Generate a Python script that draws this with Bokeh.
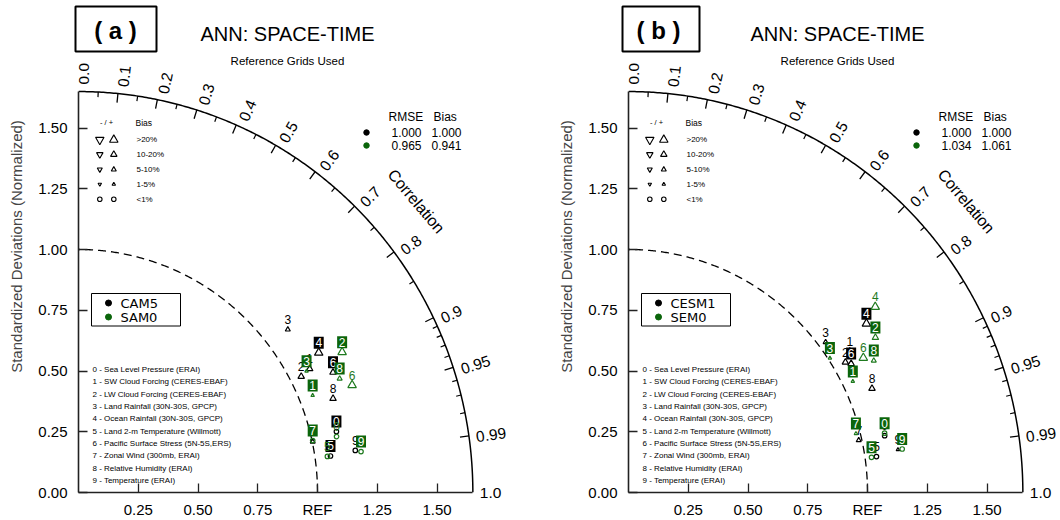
import numpy as np
from bokeh.plotting import figure
from bokeh.layouts import row
from bokeh.models import Range1d, FixedTicker, CustomJSTickFormatter
from bokeh.core.properties import value
from bokeh.embed import file_html
from bokeh.resources import INLINE

# ---------------------------------------------------------------- data
variable_names = [
    "Sea Level Pressure (ERAI)",
    "SW Cloud Forcing (CERES-EBAF)",
    "LW Cloud Forcing (CERES-EBAF)",
    "Land Rainfall (30N-30S, GPCP)",
    "Ocean Rainfall (30N-30S, GPCP)",
    "Land 2-m Temperature (Willmott)",
    "Pacific Surface Stress (5N-5S,ERS)",
    "Zonal Wind (300mb, ERAI)",
    "Relative Humidity (ERAI)",
    "Temperature (ERAI)",
]

corr_major = [0.0, 0.1, 0.2, 0.3, 0.4, 0.5, 0.6, 0.7, 0.8, 0.9, 0.95, 0.99, 1.0]
corr_major_labels = ["0.0", "0.1", "0.2", "0.3", "0.4", "0.5", "0.6",
                     "0.7", "0.8", "0.9", "0.95", "0.99", "1.0"]
corr_minor = [0.05, 0.15, 0.25, 0.35, 0.45, 0.55, 0.65, 0.75, 0.85,
              0.91, 0.92, 0.93, 0.94, 0.96, 0.97, 0.98]
std_ticks = [0.0, 0.25, 0.5, 0.75, 1.0, 1.25, 1.5]
bias_bins = [">20%", "10-20%", "5-10%", "1-5%", "<1%"]

# panel (a)
a_models = ["CAM5", "SAM0"]
a_std_cam5 = [1.108, 1.093, 1.047, 1.103, 1.158, 1.065, 1.174, 1.002, 1.133, 1.171]
a_cor_cam5 = [0.974, 0.885, 0.890, 0.794, 0.868, 0.990, 0.907, 0.978, 0.940, 0.989]
a_bias_cam5 = [0.5, 14, 15, 8, 23, 0.4, 13, 7, 16, 0.6]
a_std_sam0 = [1.104, 1.058, 1.245, 1.077, np.nan, 1.052, 1.227, 1.003, 1.189, 1.194]
a_cor_sam0 = [0.978, 0.926, 0.886, 0.886, np.nan, 0.990, 0.933, 0.977, 0.919, 0.990]
a_bias_sam0 = [0.5, 3, 22, 3, np.nan, 0.5, 24, 0.7, 8, 0.6]
a_rmse = [1.000, 0.965]
a_bias = [1.000, 0.941]

# panel (b)
b_models = ["CESM1", "SEM0"]
b_std_cesm1 = [1.097, 1.093, 1.054, 1.031, 1.214, 1.048, 1.072, 0.987, 1.105, 1.141]
b_cor_cesm1 = [0.977, 0.847, 0.861, 0.800, 0.820, 0.990, 0.869, 0.976, 0.922, 0.988]
b_bias_cesm1 = [0.5, 14, 15, 8, 24, 0.5, 13, 6, 16, 3]
b_std_sem0 = [1.099, 1.044, 1.214, 1.008, 1.284, 1.027, 1.128, 0.982, 1.161, 1.159]
b_cor_sem0 = [0.975, 0.899, 0.851, 0.836, 0.804, 0.990, 0.871, 0.969, 0.884, 0.988]
b_bias_sem0 = [0.6, 3, 15, 3, 26, 0.5, 24, 3, 8, 0.6]
b_rmse = [1.000, 1.034]
b_bias = [1.000, 1.061]

# which case labels are drawn as white digits on a filled tag
a_tagged = [[True, False, False, False, True, True, True, False, False, False],
            [False, True, True, True, False, False, False, True, True, True]]
b_tagged = [[False, False, False, False, True, False, True, False, False, False],
            [True, True, True, True, False, True, False, True, True, True]]

# ---------------------------------------------------------------- style
FONT = "Liberation Sans"
LEG_FONT = "DejaVu Sans"
CASE_LINE = ["#000000", "#1f7a1f"]
CASE_FILL = ["#000000", "#0b650b"]
SX, SY = 239.0, 243.0          # pixels per unit of normalised std
RMAX = 1.65
LEFT, BOTTOM, HEIGHT = 78, 28, 520
FRAME_H = HEIGHT - BOTTOM
TRI_SIZE = [8.5, 6.5, 5.0, 3.5]
CIRC_SIZE = 4.5


def at(dx, ytop):
    """layout helper: dx pixels right of the axis, ytop pixels from the page top"""
    return dx / SX, (FRAME_H - ytop) / SY


def bias_class(b):
    a = abs(b)
    if a > 20:
        return 0
    if a > 10:
        return 1
    if a > 5:
        return 2
    if a >= 1:
        return 3
    return 4


def txt(p, x, y, s, size, color="black", align="left", baseline="middle",
        font=FONT, style="normal", angle=0.0, xo=0.0, yo=0.0, level="glyph"):
    p.text(x=x, y=y, text=s, text_font=value(font), text_font_size=size,
           text_color=color, text_align=align, text_baseline=baseline,
           text_font_style=style, angle=angle, x_offset=xo, y_offset=yo,
           level=level)


def make_panel(tag, tag_box, models, stds, cors, biases, tagged, rmse, bias_tot, width):
    p = figure(width=width, height=HEIGHT,
               x_range=Range1d(0, (width - LEFT) / SX),
               y_range=Range1d(0, FRAME_H / SY),
               output_backend="svg", toolbar_location=None,
               min_border_left=LEFT, min_border_right=0,
               min_border_top=0, min_border_bottom=BOTTOM,
               outline_line_color=None, background_fill_color="white",
               border_fill_color="white")
    p.xgrid.visible = False
    p.ygrid.visible = False

    # straight axes
    for ax in (p.xaxis[0], p.yaxis[0]):
        ax.bounds = (0, RMAX)
        ax.axis_line_color = "#222222"
        ax.axis_line_width = 1.6
        ax.major_tick_line_color = "#222222"
        ax.major_tick_line_width = 1.3
        ax.major_tick_in = 9
        ax.major_tick_out = 0
        ax.minor_tick_line_color = None
        ax.major_label_text_font = FONT
        ax.major_label_text_font_size = "15px"
        ax.major_label_text_color = "black"
    p.xaxis.ticker = FixedTicker(ticks=std_ticks[1:])
    p.xaxis.formatter = CustomJSTickFormatter(
        code="return Math.abs(tick - 1) < 1e-9 ? 'REF' : tick.toFixed(2);")
    p.xaxis.major_label_standoff = 8
    p.yaxis.ticker = FixedTicker(ticks=std_ticks)
    p.yaxis.formatter = CustomJSTickFormatter(code="return tick.toFixed(2);")
    p.yaxis.major_label_standoff = 11
    p.yaxis.axis_label = "Standardized Deviations (Normalized)"
    p.yaxis.axis_label_text_font = FONT
    p.yaxis.axis_label_text_font_size = "15px"
    p.yaxis.axis_label_text_font_style = "normal"
    p.yaxis.axis_label_standoff = 10

    # outer correlation arc and the reference arc
    t = np.linspace(0, np.pi / 2, 300)
    p.line(RMAX * np.cos(t), RMAX * np.sin(t), line_color="black", line_width=1.5)
    p.line(np.cos(t), np.sin(t), line_color="black", line_width=1.3, line_dash="8 5")

    # correlation ticks (pointing inwards) and labels
    th_maj = np.arccos(np.array(corr_major))
    th_in = th_maj[1:-1]
    r_in = RMAX - 9 / SX
    p.segment(RMAX * np.cos(th_in), RMAX * np.sin(th_in),
              r_in * np.cos(th_in), r_in * np.sin(th_in),
              line_color="black", line_width=1.3)
    th_min = np.arccos(np.array(corr_minor))
    r_in2 = RMAX - 5 / SX
    p.segment(RMAX * np.cos(th_min), RMAX * np.sin(th_min),
              r_in2 * np.cos(th_min), r_in2 * np.sin(th_min),
              line_color="black", line_width=1.2)
    rad, perp = 7.0, 5.0 * np.minimum(1.0, th_maj / 0.3)
    # overlay level: the "1.0" label straddles the bottom edge of the frame
    txt(p, RMAX * np.cos(th_maj), RMAX * np.sin(th_maj),
        corr_major_labels, "15.5px", angle=th_maj,
        xo=rad * np.cos(th_maj) + perp * np.sin(th_maj),
        yo=-rad * np.sin(th_maj) + perp * np.cos(th_maj), level="overlay")
    tc = np.radians(40.3)
    txt(p, [1.853 * np.cos(tc)], [1.853 * np.sin(tc)], ["Correlation"], "16px",
        align="center", angle=tc - np.pi / 2)

    # panel tag, title, subtitle
    bl, br, bc = tag_box
    x0, y1 = at(bl, 6)
    x1, y0 = at(br, 51)
    p.quad(left=[x0], right=[x1], bottom=[y0], top=[y1], fill_color=None,
           line_color="black", line_width=2, level="overlay")
    tx, ty = at(bc, 30)
    txt(p, [tx], [ty], ["( %s )" % tag], "24px", align="center", style="bold",
        level="overlay")
    tx, ty = at(209, 33)
    txt(p, [tx], [ty], ["ANN: SPACE-TIME"], "20px", align="center")
    tx, ty = at(209, 60)
    txt(p, [tx], [ty], ["Reference Grids Used"], "11.5px", align="center")

    # bias-size key
    tx, ty = at(28, 122)
    txt(p, [tx], [ty], ["- / +"], "7.5px", align="center")
    tx, ty = at(57, 122)
    txt(p, [tx], [ty], ["Bias"], "8.5px")
    rows_y = [139.3, 154.0, 169.0, 183.7, 198.7]
    for k, lab in enumerate(bias_bins):
        xd, yk = at(21.3, rows_y[k])
        xu, _ = at(35.3, rows_y[k])
        xl, _ = at(58, rows_y[k])
        if k < 4:
            p.scatter([xd], [yk], marker="inverted_triangle", size=TRI_SIZE[k],
                      fill_color=None, line_color="black", line_width=1.1)
            p.scatter([xu], [yk], marker="triangle", size=TRI_SIZE[k],
                      fill_color=None, line_color="black", line_width=1.1)
        else:
            p.scatter([xd, xu], [yk, yk], marker="circle", size=CIRC_SIZE,
                      fill_color=None, line_color="black", line_width=1.1)
        txt(p, [xl], [yk], [lab], "8px")

    # RMSE / Bias summary
    hx1, hy = at(310, 116)
    hx2, _ = at(355, 116)
    txt(p, [hx1], [hy], ["RMSE"], "12px")
    txt(p, [hx2], [hy], ["Bias"], "12px")
    for n in range(2):
        dx, ry = at(288, 132 + 13 * n)
        c1, _ = at(313, 132 + 13 * n)
        c2, _ = at(353, 132 + 13 * n)
        p.scatter([dx], [ry], marker="circle", size=5.5, fill_color=CASE_FILL[n],
                  line_color=CASE_FILL[n])
        txt(p, [c1], [ry], ["%.3f" % rmse[n]], "12px")
        txt(p, [c2], [ry], ["%.3f" % bias_tot[n]], "12px")

    # case legend
    bx0, by1 = at(13, 293)
    bx1, by0 = at(102, 325.5)
    p.quad(left=[bx0], right=[bx1], bottom=[by0], top=[by1], fill_color="white",
           line_color="black", line_width=1)
    for n in range(2):
        dx, ry = at(30, 302.5 + 14 * n)
        lx, _ = at(42, 302.5 + 14 * n)
        p.scatter([dx], [ry], marker="circle", size=6, fill_color=CASE_FILL[n],
                  line_color=CASE_FILL[n])
        txt(p, [lx], [ry], [models[n]], "13px", font=LEG_FONT)

    # variable key
    for i, name in enumerate(variable_names):
        lx, ly = at(14, 369 + 12.35 * i)
        txt(p, [lx], [ly], ["%d - %s" % (i, name)], "8px")

    # case markers and their numbered labels
    for n in range(2):
        s = np.array(stds[n], dtype=float)
        r = np.array(cors[n], dtype=float)
        b = np.array(biases[n], dtype=float)
        x = s * r
        y = s * np.sqrt(1 - r ** 2)
        for i in range(len(s)):
            if np.isnan(s[i]):
                continue
            k = bias_class(b[i])
            if k == 4:
                mk, sz = "circle", CIRC_SIZE
            else:
                mk = "triangle" if b[i] > 0 else "inverted_triangle"
                sz = TRI_SIZE[k]
            p.scatter([x[i]], [y[i]], marker=mk, size=sz, fill_color=None,
                      line_color=CASE_LINE[n], line_width=1.2)
        for i in range(len(s)):
            if np.isnan(s[i]):
                continue
            ly = y[i] + 10 / SY
            if tagged[n][i]:
                p.rect([x[i]], [ly], width=10, height=12, width_units="screen",
                       height_units="screen", fill_color=CASE_FILL[n], line_color=None)
                txt(p, [x[i]], [ly], [str(i)], "12px", color="white", align="center")
            else:
                txt(p, [x[i]], [ly], [str(i)], "12px", color=CASE_LINE[n], align="center")
    return p


pa = make_panel("a", (-3, 78, 37), a_models,
                [a_std_cam5, a_std_sam0], [a_cor_cam5, a_cor_sam0],
                [a_bias_cam5, a_bias_sam0], a_tagged, a_rmse, a_bias, 550)
pb = make_panel("b", (-6, 71, 30), b_models,
                [b_std_cesm1, b_std_sem0], [b_cor_cesm1, b_cor_sem0],
                [b_bias_cesm1, b_bias_sem0], b_tagged, b_rmse, b_bias, 510)

layout = row(pa, pb)
open("out.html", "w").write(file_html(layout, INLINE))
